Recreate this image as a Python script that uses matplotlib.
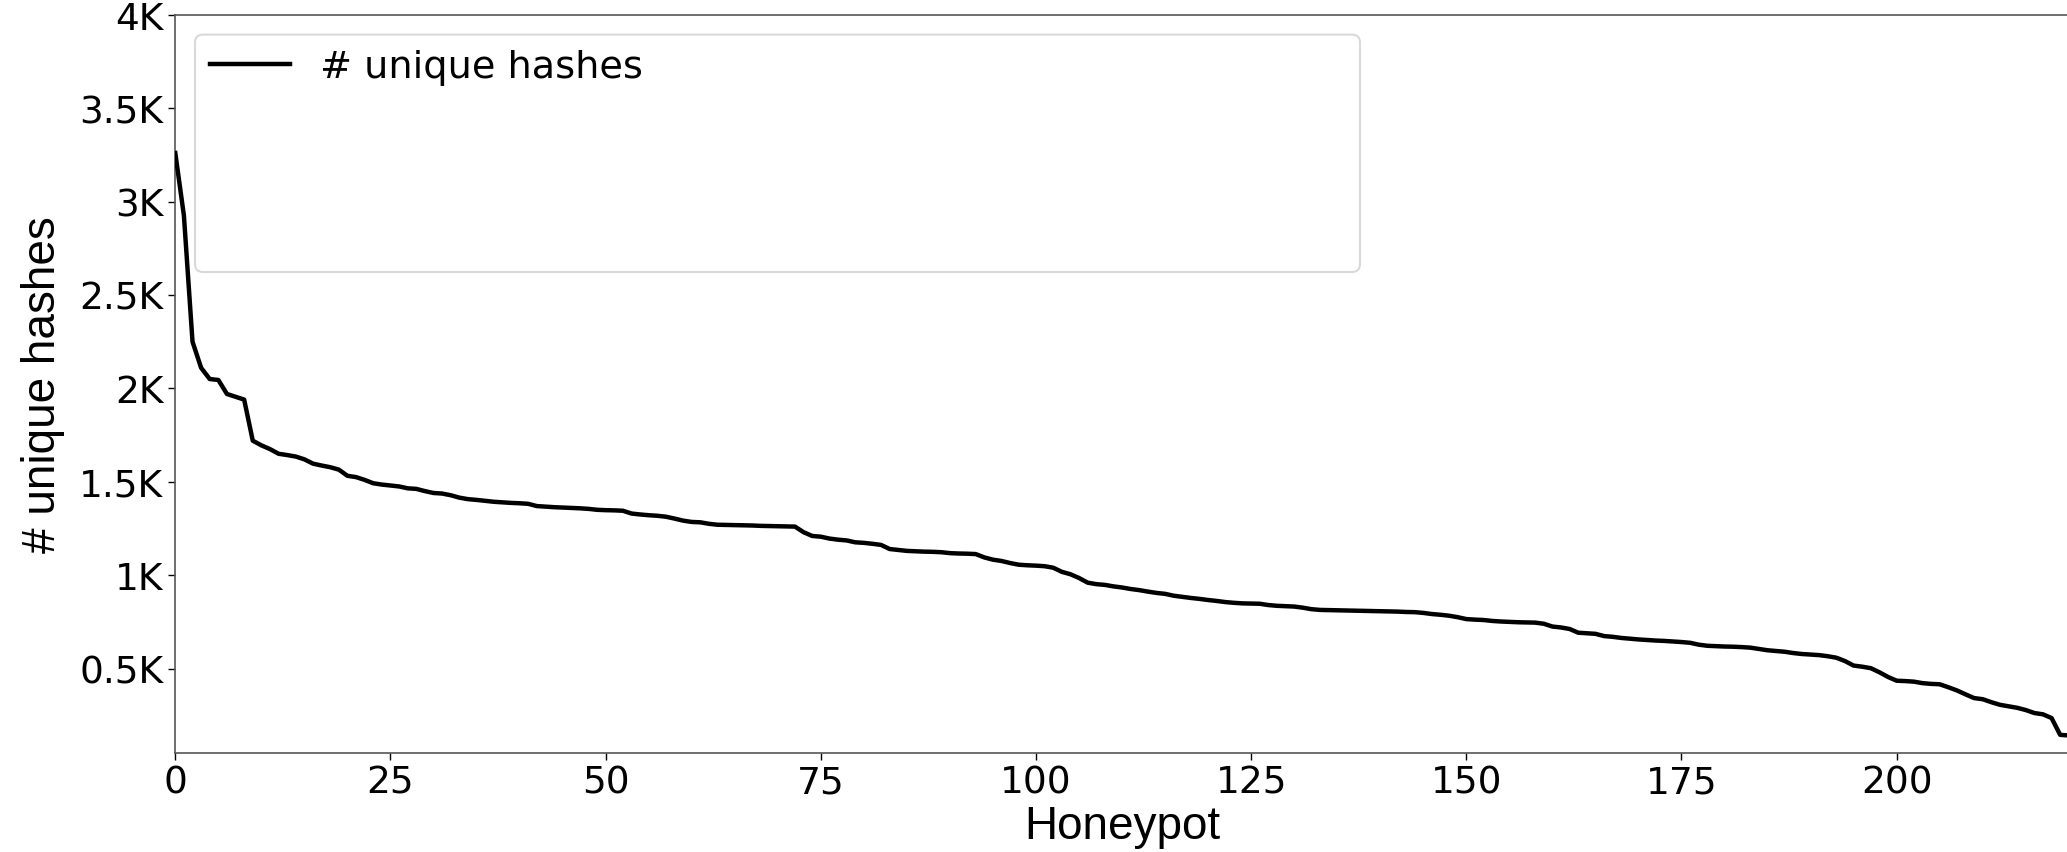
import matplotlib
matplotlib.use("Agg")
import matplotlib.pyplot as plt
from matplotlib.patches import FancyBboxPatch
from matplotlib.transforms import IdentityTransform
from matplotlib.ticker import FuncFormatter

# ---- data ----
unique_hashes = [
    3260, 2925, 2250, 2110, 2050, 2045, 1970, 1955, 1940, 1720,
    1695, 1675, 1650, 1643, 1635, 1620, 1597, 1587, 1578, 1565,
    1532, 1525, 1510, 1492, 1485, 1480, 1475, 1465, 1462, 1450,
    1440, 1437, 1428, 1415, 1407, 1403, 1398, 1393, 1390, 1387,
    1385, 1382, 1370, 1367, 1364, 1362, 1360, 1358, 1355, 1350,
    1348, 1347, 1345, 1330, 1325, 1321, 1318, 1313, 1303, 1292,
    1285, 1283, 1275, 1270, 1269, 1268, 1267, 1266, 1264, 1263,
    1262, 1261, 1260, 1230, 1210, 1206, 1196, 1190, 1186, 1176,
    1173, 1168, 1162, 1140, 1135, 1130, 1128, 1126, 1125, 1123,
    1118, 1116, 1115, 1113, 1095, 1083, 1076, 1065, 1056, 1053,
    1051, 1048, 1040, 1018, 1005, 985, 960, 952, 948, 940,
    934, 926, 920, 912, 905, 900, 890, 884, 878, 873,
    867, 862, 856, 852, 849, 848, 847, 840, 836, 834,
    832, 826, 818, 814, 813, 812, 811, 810, 809, 808,
    807, 806, 805, 803, 802, 798, 792, 788, 783, 775,
    765, 762, 760, 755, 752, 750, 748, 747, 746, 740,
    725, 720, 712, 692, 689, 686, 674, 670, 664, 660,
    656, 653, 650, 648, 645, 642, 638, 628, 622, 620,
    618, 617, 615, 612, 605, 598, 594, 590, 583, 578,
    575, 572, 566, 558, 540, 516, 510, 502, 480, 455,
    435, 433, 430, 422, 418, 416, 400, 383, 362, 342,
    336, 320, 306, 298, 290, 278, 262, 255, 235, 145,
    142,
]
honeypots = list(range(len(unique_hashes)))
x_ticks = [0, 25, 50, 75, 100, 125, 150, 175, 200]
y_ticks = [500, 1000, 1500, 2000, 2500, 3000, 3500, 4000]
series_label = "# unique hashes"
x_label = "Honeypot"
y_label = "# unique hashes"

# ---- figure ----
W, H, DPI = 2067, 853, 100
fig = plt.figure(figsize=(W / DPI, H / DPI), dpi=DPI)
ax = fig.add_axes([175.3 / W, 99 / H, (2068.8 - 175.3) / W, (754 - 15.8) / H])

ax.plot(honeypots, unique_hashes, color="black", linewidth=3.2, label=series_label, zorder=3)

ax.set_xlim(0, honeypots[-1])
ax.set_ylim(48, 4000)
ax.set_xticks(x_ticks)
ax.set_yticks(y_ticks)
ax.yaxis.set_major_formatter(FuncFormatter(lambda v, p: f"{v/1000:g}K"))
ax.tick_params(labelsize=27, length=5, width=1, colors="black")
for lab in ax.get_xticklabels() + ax.get_yticklabels():
    lab.set_family("DejaVu Sans")

for s in ax.spines.values():
    s.set_color("#555555")
    s.set_linewidth(1.2)

ax.set_xlabel(x_label, fontsize=33, family="Liberation Sans", labelpad=2)
ax.set_ylabel(y_label, fontsize=33, family="Liberation Sans", labelpad=10)

# legend frame (stretched box) and entry
box = FancyBboxPatch((195, H - 273), 1360 - 195, 273 - 35.6,
                     boxstyle="round,pad=0,rounding_size=8",
                     transform=IdentityTransform(), facecolor="white",
                     edgecolor="#d9d9d9", linewidth=1.5, zorder=4, clip_on=False)
ax.add_artist(box)
leg = ax.legend(loc="upper left", frameon=False, handlelength=2.1,
                prop={"family": "DejaVu Sans", "size": 27.5})
leg.set_zorder(6)

fig.savefig("out.png", dpi=DPI)
